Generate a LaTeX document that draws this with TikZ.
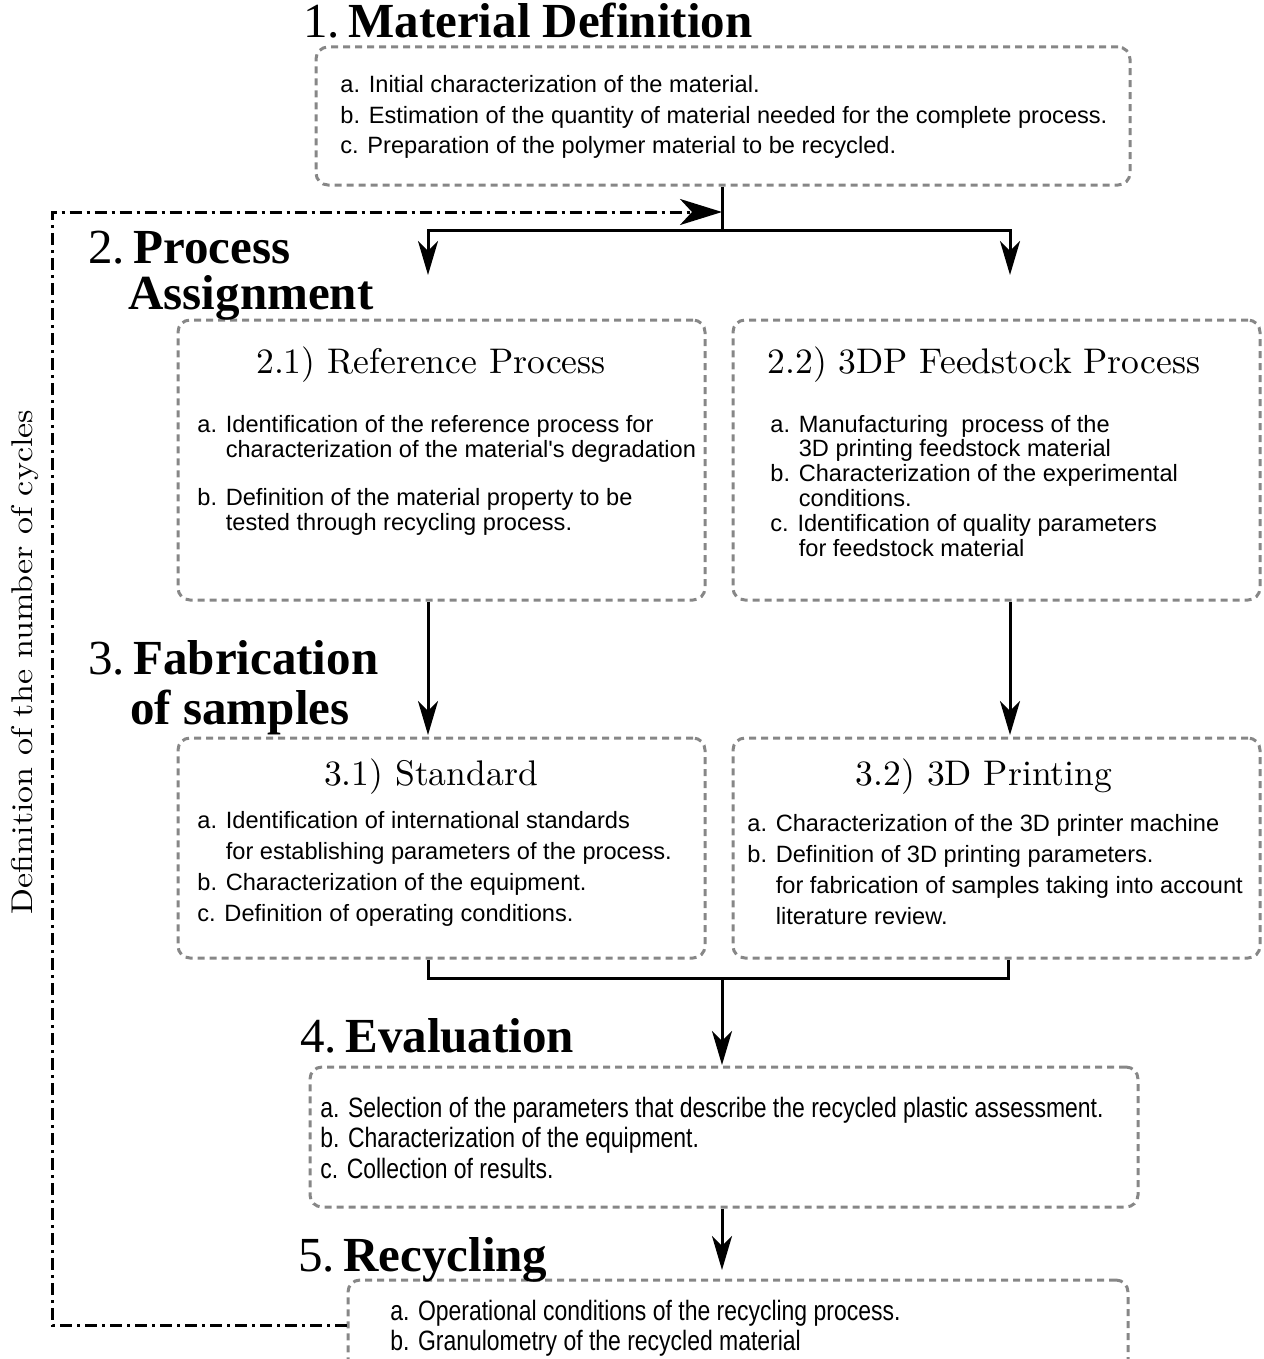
\documentclass[tikz,border=0pt]{standalone}
\usepackage{fontspec}
\usepackage{graphicx}
\usetikzlibrary{arrows.meta,fit}
\newfontfamily\titlefont{Liberation Serif}
\newfontfamily\bodyfont{Liberation Sans}
\definecolor{boxgray}{RGB}{135,135,135}
\newcommand{\hdtext}[1]{\scalebox{1.78}{\fontsize{10}{12}\selectfont #1}}
\begin{document}
\begin{tikzpicture}[x=0.5pt,y=-0.5pt,
 box/.style={draw=boxgray, line width=1.5pt, dash pattern=on 3.5pt off 2.5pt, rounded corners=6pt, inner sep=0pt},
 conn/.style={line width=1.5pt},
 arr/.style={conn, -{Stealth[length=17pt,width=10pt,inset=5pt]}},
 fbline/.style={line width=1.5pt, dash pattern=on 6pt off 2.5pt on 1.5pt off 2.5pt, -{Stealth[length=21pt,width=13pt,inset=6pt]}},
 ttl/.style={anchor=base west, inner sep=0pt, font=\titlefont\fontsize{24.5}{22.5}\selectfont},
 hd/.style={anchor=base, inner sep=0pt, font=\rmfamily},
 lst/.style={anchor=base west, inner sep=0pt, font=\bodyfont\fontsize{11.8}{#1}\selectfont},
 cond/.style={anchor=base west, inner sep=0pt, font=\bodyfont\fontsize{14}{#1}\selectfont},
]
\useasboundingbox (0,0) rectangle (1263,1359);
\clip (0,0) rectangle (1263,1359);

% boxes
\node[box, fit={(316,47) (1130,185)}] (b1) {};
\node[box, fit={(178,320) (705,600)}] (b21) {};
\node[box, fit={(733,320) (1260,600)}] (b22) {};
\node[box, fit={(178,738) (705,958)}] (b31) {};
\node[box, fit={(733,738) (1260,958)}] (b32) {};
\node[box, fit={(310,1067) (1138,1207)}] (b4) {};
\node[box, fit={(348,1280) (1128,1420)}] (b5) {};

% titles
\node[ttl] (t1) at (303,38) {1.\,\textbf{Material Definition}};
\node[ttl] (t2) at (88,263) {\begin{tabular}[t]{@{}l@{}}2.\,\textbf{Process}\\[-0.5pt]\hspace{20pt}\textbf{Assignment}\end{tabular}};
\node[ttl] (t3) at (88,674) {\begin{tabular}[t]{@{}l@{}}3.\,\textbf{Fabrication}\\[1pt]\hspace{21pt}\textbf{of samples}\end{tabular}};
\node[ttl] (t4) at (300,1052) {4.\,\textbf{Evaluation}};
\node[ttl] (t5) at (298,1271) {5.\,\textbf{Recycling}};

% headings
\node[hd] (h21) at (431,373) {\hdtext{2.1) Reference Process}};
\node[hd] (h22) at (984,373) {\hdtext{2.2) 3DP Feedstock Process}};
\node[hd] (h31) at (431,785) {\hdtext{3.1) Standard}};
\node[hd] (h32) at (984,785) {\hdtext{3.2) 3D Printing}};

% lists
\node[lst=15.25] (l1) at (340,93) {\begin{tabular}[t]{@{}l@{}}a. Initial characterization of the material.\\ b. Estimation of the quantity of material needed for the complete process.\\ c. Preparation of the polymer material to be recycled.\end{tabular}};
\node[lst=12.5] (l21) at (197,432) {\begin{tabular}[t]{@{}l@{}}a. Identification of the reference process for\\ \phantom{a. }characterization of the material's degradation\\[11.5pt] b. Definition of the material property to be\\ \phantom{a. }tested through recycling process.\end{tabular}};
\node[lst=12.4] (l22) at (770,432) {\begin{tabular}[t]{@{}l@{}}a. Manufacturing\ \ process of the\\ \phantom{a. }3D printing feedstock material\\ b. Characterization of the experimental\\ \phantom{a. }conditions.\\ c. Identification of quality parameters\\ \phantom{a. }for feedstock material\end{tabular}};
\node[lst=15.6] (l31) at (197,828) {\begin{tabular}[t]{@{}l@{}}a. Identification of international standards\\ \phantom{a. }for establishing parameters of the process.\\ b. Characterization of the equipment.\\ c. Definition of operating conditions.\end{tabular}};
\node[lst=15.5] (l32) at (747,831) {\begin{tabular}[t]{@{}l@{}}a. Characterization of the 3D printer machine\\ b. Definition of 3D printing parameters.\\ \phantom{a. }for fabrication of samples taking into account\\ \phantom{a. }literature review.\end{tabular}};
\node[cond=15.25] (l4) at (320,1117) {\scalebox{0.82}[1]{\begin{tabular}[t]{@{}l@{}}a. Selection of the parameters that describe the recycled plastic assessment.\\ b. Characterization of the equipment.\\ c. Collection of results.\end{tabular}}};
\node[cond=15] (l5) at (390,1320) {\scalebox{0.82}[1]{\begin{tabular}[t]{@{}l@{}}a. Operational conditions of the recycling process.\\ b. Granulometry of the recycled material\end{tabular}}};

% side label
\node[rotate=90, inner sep=0pt, font=\rmfamily] (cyc) at (25,662) {\scalebox{1.7}[1.5]{\fontsize{10}{12}\selectfont Definition of the number of cycles}};

% connector coordinates
\coordinate (j1) at (722,230);
\coordinate (a21) at (428,275);
\coordinate (a22) at (1010,275);
\coordinate (a31) at (428,735);
\coordinate (a32) at (1010,735);
\coordinate (m1) at (428,978);
\coordinate (m2) at (1008,978);
\coordinate (mj) at (722,978);
\coordinate (a4) at (722,1065);
\coordinate (a5) at (722,1270);
\coordinate (fbl) at (52,1325);
\coordinate (fbt) at (52,212);
\coordinate (fbe) at (722,212);

% connectors
\draw[conn] (b1.south -| j1) -- (j1);
\draw[arr] (j1) -| (a21);
\draw[arr] (j1) -| (a22);
\draw[arr] (b21.south -| a31) -- (a31);
\draw[arr] (b22.south -| a32) -- (a32);
\draw[conn] (b31.south -| m1) -- (m1) -- (m2) -- (b32.south -| m2);
\draw[arr] (mj) -- (a4);
\draw[arr] (b4.south -| a5) -- (a5);
\draw[fbline] (b5.west |- fbl) -- (fbl) -- (fbt) -- (fbe);
\end{tikzpicture}
\end{document}
